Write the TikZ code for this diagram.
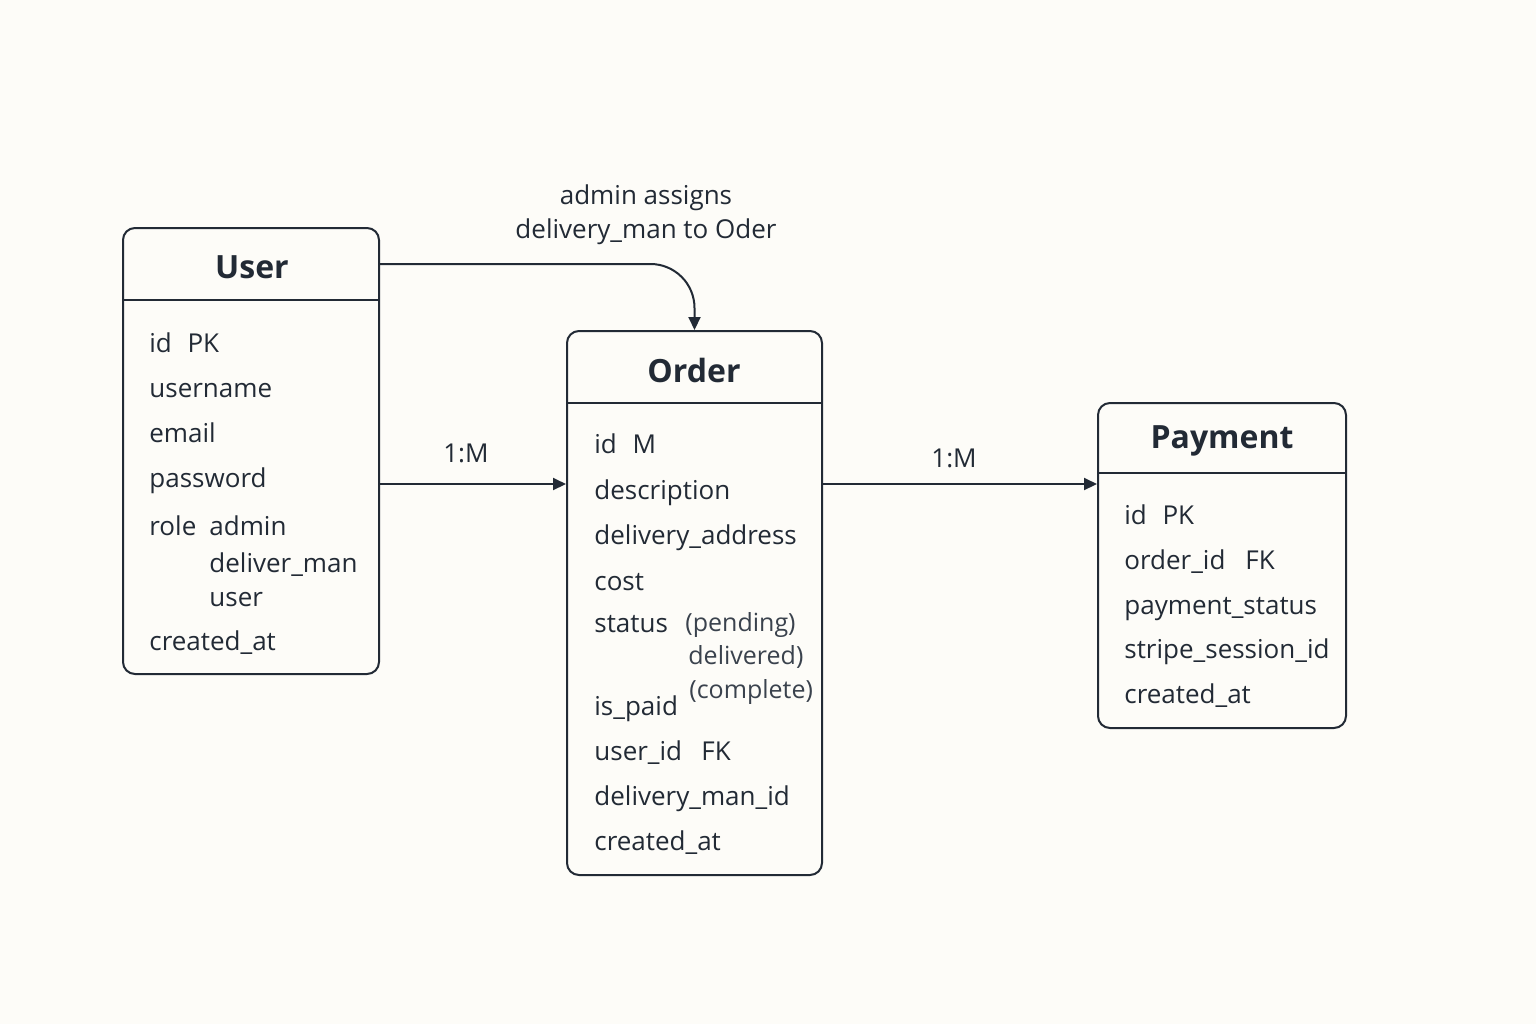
\documentclass[tikz,border=0pt]{standalone}
\usepackage{fontspec}
\setmainfont{Open Sans}
\usetikzlibrary{arrows.meta}
\definecolor{bgc}{HTML}{FDFCF8}
\definecolor{ink}{HTML}{222A35}
\definecolor{soft}{HTML}{3A424D}
\begin{document}
\begin{tikzpicture}[x=0.5pt,y=-0.5pt,
  entity/.style={draw=ink,line width=1pt,rounded corners=6pt,fill=bgc,inner sep=0pt},
  title/.style={font=\fontsize{16}{19}\selectfont\bfseries,text=ink,anchor=center},
  attr/.style={font=\fontsize{13}{15}\selectfont,text=ink,anchor=mid west,inner sep=0pt},
  note/.style={font=\fontsize{12.5}{14}\selectfont,text=soft,anchor=mid west,inner sep=0pt},
  lbl/.style={font=\fontsize{13}{15}\selectfont,text=ink,anchor=center,inner sep=0pt},
  rel/.style={draw=ink,line width=1pt,-{Triangle[length=6.5pt,width=6pt]}},
  sep/.style={draw=ink,line width=0.8pt}]
\fill[bgc] (0,0) rectangle (1536,1024);
\useasboundingbox (0,0) rectangle (1536,1024);

% User
\node[entity,minimum width=128pt,minimum height=223pt] (user) at (251,451) {};
\node[title] (userT) at (252,267) {User};
\draw[sep] (user.west |- 0,300) -- (user.east |- 0,300);
\node[attr] (u1) at (149,347) {id\hspace{0.6em}PK};
\node[attr] (u2) at (149,392) {username};
\node[attr] (u3) at (149,437) {email};
\node[attr] (u4) at (149,482) {password};
\node[attr] (u5) at (149,530) {role};
\node[attr] (u5a) at (209,530) {admin};
\node[attr] (u5b) at (209,567) {deliver\_man};
\node[attr] (u5c) at (209,601) {user};
\node[attr] (u6) at (149,645) {created\_at};

% Order
\node[entity,minimum width=127.5pt,minimum height=272pt] (order) at (694.5,603) {};
\node[title] (orderT) at (694,370) {Order};
\draw[sep] (order.west |- 0,403) -- (order.east |- 0,403);
\node[attr] (o1) at (594,448) {id\hspace{0.6em}M};
\node[attr] (o2) at (594,494) {description};
\node[attr] (o3) at (594,539) {delivery\_address};
\node[attr] (o4) at (594,585) {cost};
\node[attr] (o5) at (594,627) {status};
\node[note] (o5a) at (685,626) {(pending)};
\node[note] (o5b) at (688,659) {delivered)};
\node[note] (o5c) at (689,693) {(complete)};
\node[attr] (o6) at (594,710) {is\_paid};
\node[attr] (o7) at (594,755) {user\_id};
\node[attr] (o7a) at (701,755) {FK};
\node[attr] (o8) at (594,800) {delivery\_man\_id};
\node[attr] (o9) at (594,845) {created\_at};

% Payment
\node[entity,minimum width=124pt,minimum height=162.5pt] (pay) at (1222,565.5) {};
\node[title] (payT) at (1222,441) {Payment};
\draw[sep] (pay.west |- 0,473) -- (pay.east |- 0,473);
\node[attr] (p1) at (1124,519) {id\hspace{0.6em}PK};
\node[attr] (p2) at (1124,564) {order\_id};
\node[attr] (p2a) at (1245,564) {FK};
\node[attr] (p3) at (1124,609) {payment\_status};
\node[attr] (p4) at (1124,653) {stripe\_session\_id};
\node[attr] (p5) at (1124,698) {created\_at};

% relations
\draw[rel] (user.east |- 0,484) -- (order.west |- 0,484);
\node[lbl] (l1) at (466,453) {1:M};
\draw[rel] (order.east |- 0,484) -- (pay.west |- 0,484);
\node[lbl] (l2) at (954,458) {1:M};
\draw[rel,rounded corners=22pt] (user.east |- 0,264) -- (order.north |- 0,264) -- (order.north);
\node[lbl] (l3) at (646,198) {admin assigns};
\node[lbl] (l4) at (646,232) {delivery\_man to Oder};
\end{tikzpicture}
\end{document}
